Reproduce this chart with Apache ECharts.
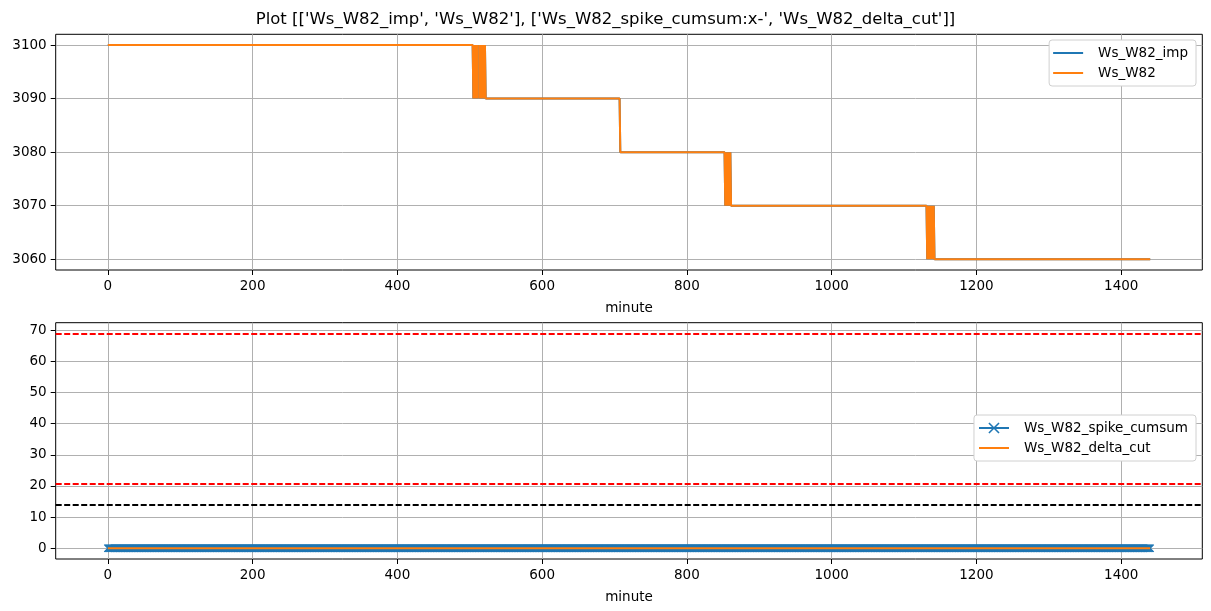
<!DOCTYPE html>
<html>
<head>
<meta charset="utf-8">
<script src="https://cdn.jsdelivr.net/npm/echarts@6/dist/echarts.min.js"></script>
<style>
html,body{margin:0;padding:0;background:#fff;}
#chart{width:1211px;height:611px;}
</style>
</head>
<body>
<div id="chart"></div>
<script>
// ---- data ----
const titleText = "Plot [['Ws_W82_imp', 'Ws_W82'], ['Ws_W82_spike_cumsum:x-', 'Ws_W82_delta_cut']]";
const xTicks = [0, 200, 400, 600, 800, 1000, 1200, 1400];
const topYTicks = [3060, 3070, 3080, 3090, 3100];
const bottomYTicks = [0, 10, 20, 30, 40, 50, 60, 70];

// step series: minute / value breakpoints (null = gap)
const w82Minutes = [0, 504, 505, 506, 507, 508, 509, 510, 511, 512, 513, 514, 515, 516, 517, 518, 519, 520, 521, 522,
  707, 708, 852, 853, 854, 855, 856, 857, 858, 859, 860, 861, 862,
  1131, 1132, 1133, 1134, 1135, 1136, 1137, 1138, 1139, 1140, 1141, 1142, 1143, 1440];
const w82Values = [3100, 3100, 3090, 3100, 3090, 3100, 3090, 3100, 3090, null, 3100, 3090, 3100, 3090, 3100, 3090, 3100, 3090, 3100, 3090,
  3090, 3080, 3080, 3070, 3080, 3070, 3080, 3070, 3080, 3070, 3080, 3070, 3070,
  3070, 3060, 3070, 3060, 3070, 3060, 3070, 3060, 3070, 3060, 3070, 3060, 3060, 3060];
const w82ImpValues = w82Values.slice();

// spike cumsum: one point per minute, all 0
const minutes = [];
for (let m = 0; m <= 1440; m++) minutes.push(m);
const spikeCumsum = minutes.map(() => 0);
const deltaCutMinutes = [0, 1440];
const deltaCutValues = [0, 0];

const hLinesRed = [69, 20.7];
const hLinesBlack = [13.9];

// ---- build ----
const pairs = (xs, ys) => xs.map((x, i) => [x, ys[i]]);
const xMark = 'path://M0,1L1,0L5,4L9,0L10,1L6,5L10,9L9,10L5,6L1,10L0,9L4,5Z';
const lineIcon = 'path://M0,0H30V2H0Z';
const blue = '#1f77b4', orange = '#ff7f0e';
const font = 'DejaVu Sans';

function xAxisCfg(gridIndex) {
  return {
    type: 'value', gridIndex, min: -72, max: 1512,
    name: 'minute', nameLocation: 'middle', nameGap: 31,
    nameTextStyle: {fontFamily: font, fontSize: 13.5, color: '#000'},
    axisLine: {show: false, onZero: false},
    axisTick: {show: true, length: 5, lineStyle: {color: '#000', width: 1}, customValues: xTicks},
    axisLabel: {color: '#000', fontFamily: font, fontSize: 13.5, margin: 9, customValues: xTicks,
      formatter: v => String(v)},
    splitLine: {show: false}
  };
}
function yAxisCfg(gridIndex, min, max, ticks) {
  return {
    type: 'value', gridIndex, min, max,
    axisLine: {show: false, onZero: false},
    axisTick: {show: true, length: 5, lineStyle: {color: '#000', width: 1}, customValues: ticks},
    axisLabel: {color: '#000', fontFamily: font, fontSize: 13.5, margin: 9, customValues: ticks,
      formatter: v => String(v)},
    splitLine: {show: false}
  };
}
function gridLines(ticksX, ticksY) {
  const d = [];
  ticksX.forEach(v => d.push({xAxis: v}));
  ticksY.forEach(v => d.push({yAxis: v}));
  return {
    silent: true, symbol: 'none', label: {show: false},
    lineStyle: {color: '#b0b0b0', width: 1, type: 'solid'},
    data: d, z: 0
  };
}

const hData = [];
hLinesRed.forEach(v => hData.push({yAxis: v, lineStyle: {color: '#ff0000'}}));
hLinesBlack.forEach(v => hData.push({yAxis: v, lineStyle: {color: '#000000'}}));

const legendBase = {
  orient: 'vertical', right: 15,
  itemWidth: 30, itemHeight: 14, itemGap: 6,
  padding: [6, 8, 6, 4],
  backgroundColor: '#fff', borderColor: '#d0d0d0', borderWidth: 1, borderRadius: 3,
  textStyle: {fontFamily: font, fontSize: 13.5, color: '#000', padding: [0, 0, 0, 10]}
};

const option = {
  animation: false,
  backgroundColor: '#fff',
  title: {
    text: titleText, left: 'center', top: 6,
    textStyle: {fontFamily: font, fontSize: 16.5, fontWeight: 'normal', color: '#000'}
  },
  grid: [
    {left: 55.7, right: 8.7, top: 34.3, height: 235.7, show: true, borderColor: '#000', borderWidth: 1, backgroundColor: 'transparent'},
    {left: 55.7, right: 8.7, top: 322.7, height: 236.3, show: true, borderColor: '#000', borderWidth: 1, backgroundColor: 'transparent'}
  ],
  legend: [
    Object.assign({}, legendBase, {
      top: 40,
      data: [{name: 'Ws_W82_imp', icon: lineIcon}, {name: 'Ws_W82', icon: lineIcon}]
    }),
    Object.assign({}, legendBase, {
      top: 415,
      data: [{name: 'Ws_W82_spike_cumsum'}, {name: 'Ws_W82_delta_cut', icon: lineIcon}]
    })
  ],
  xAxis: [xAxisCfg(0), xAxisCfg(1)],
  yAxis: [yAxisCfg(0, 3058, 3102, topYTicks), yAxisCfg(1, -3.45, 72.45, bottomYTicks)],
  series: [
    {
      name: 'Ws_W82_imp', type: 'line', xAxisIndex: 0, yAxisIndex: 0,
      data: pairs(w82Minutes, w82ImpValues), symbol: 'none', connectNulls: false,
      lineStyle: {color: blue, width: 2}, itemStyle: {color: blue},
      markLine: gridLines(xTicks, topYTicks), z: 2
    },
    {
      name: 'Ws_W82', type: 'line', xAxisIndex: 0, yAxisIndex: 0,
      data: pairs(w82Minutes, w82Values), symbol: 'none', connectNulls: false,
      lineStyle: {color: orange, width: 2}, itemStyle: {color: orange}, z: 3
    },
    {
      name: 'Ws_W82_spike_cumsum', type: 'line', xAxisIndex: 1, yAxisIndex: 1,
      data: pairs(minutes, spikeCumsum), symbol: xMark, symbolSize: 8, showSymbol: true,
      lineStyle: {color: blue, width: 2}, itemStyle: {color: blue},
      markLine: gridLines(xTicks, bottomYTicks), z: 2
    },
    {
      name: 'Ws_W82_delta_cut', type: 'line', xAxisIndex: 1, yAxisIndex: 1,
      data: pairs(deltaCutMinutes, deltaCutValues), symbol: 'none',
      lineStyle: {color: orange, width: 2}, itemStyle: {color: orange}, z: 3,
      markLine: {
        silent: true, symbol: 'none', label: {show: false},
        lineStyle: {type: [6, 2.5], width: 2},
        data: hData
      }
    }
  ]
};

const chart = echarts.init(document.getElementById('chart'), null, {renderer: 'canvas'});
chart.setOption(option);
</script>
</body>
</html>
